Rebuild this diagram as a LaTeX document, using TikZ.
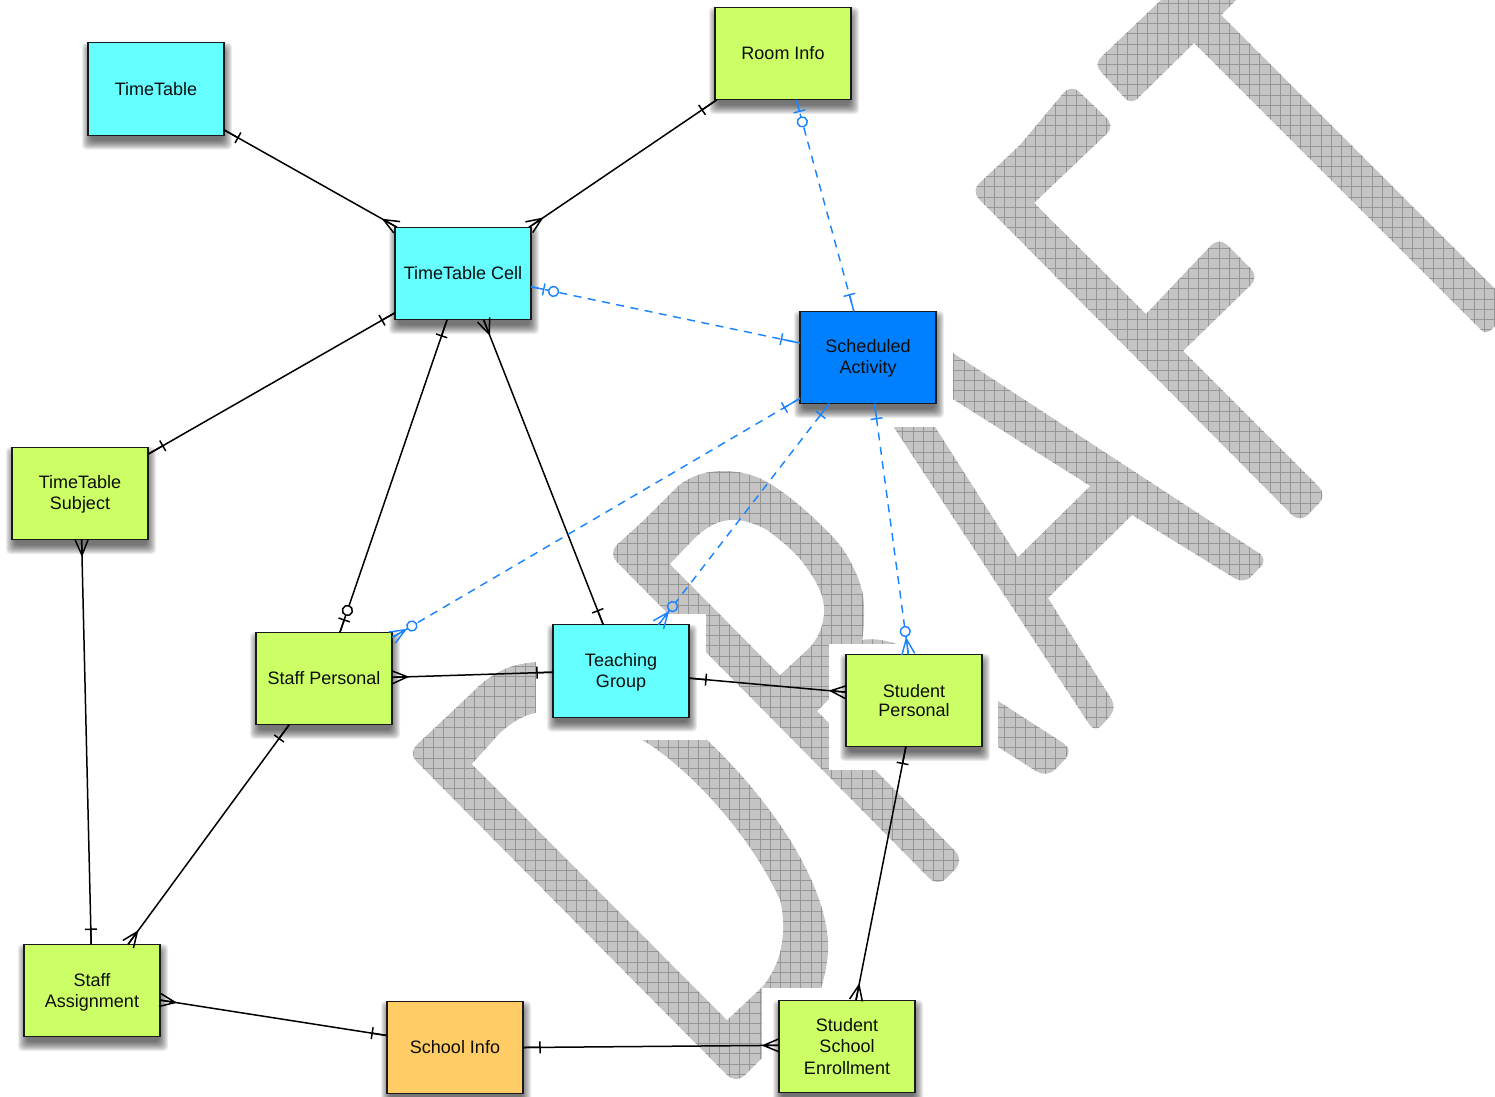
\documentclass[tikz,border=0pt]{standalone}
\usepackage{fontspec}
\setmainfont{Liberation Sans}
\usetikzlibrary{decorations.markings}
\definecolor{ercyan}{HTML}{66FFFF}
\definecolor{erlime}{HTML}{CCFF66}
\definecolor{erblue}{HTML}{0080FF}
\definecolor{erorange}{HTML}{FFCC66}
\definecolor{linkblue}{HTML}{1A84FF}
\definecolor{wmfill}{HTML}{C4C4C4}
\definecolor{wmgrid}{HTML}{969696}
\tikzset{
  ernode/.style={draw=black!90,line width=1.4pt,minimum width=136pt,minimum height=92.5pt,inner sep=0pt,outer sep=0pt,align=center,text=black!95,
    font=\fontsize{18}{21.2}\selectfont},
  link/.style={line width=1.5pt,color=black},
  dlink/.style={line width=1.45pt,color=linkblue,dash pattern=on 8pt off 6.5pt},
  barS/.style={postaction={decorate,decoration={markings,mark=at position #1pt with {\draw[solid] (0,-6)--(0,6) (0,0)--(-#1,0);}}}},
  barE/.style={postaction={decorate,decoration={markings,mark=at position -#1pt with {\draw[solid] (0,-6)--(0,6) (0,0)--(#1,0);}}}},
  crowS/.style={postaction={decorate,decoration={markings,mark=at position 15.5pt with {\draw[solid] (0,0)--(-15.5,6.5) (0,0)--(-15.5,-6.5) (0,0)--(-15.5,0);}}}},
  crowE/.style={postaction={decorate,decoration={markings,mark=at position -15.5pt with {\draw[solid] (0,0)--(15.5,6.5) (0,0)--(15.5,-6.5) (0,0)--(15.5,0);}}}},
  circS/.style={postaction={decorate,decoration={markings,mark=at position #1pt with {\draw[solid,fill=white] (0,0) circle[radius=5] ;}}}},
  circE/.style={postaction={decorate,decoration={markings,mark=at position -#1pt with {\draw[solid,fill=white] (0,0) circle[radius=5] ;}}}},
  circEg/.style={postaction={decorate,decoration={markings,mark=at position -#1pt with {\draw[solid,fill=wmfill] (0,0) circle[radius=5] ;}}}},
  halo/.style={fill=white,draw=none},
}
\newcommand{\firstline}[1]{\rule{0pt}{#1pt}}
\newcommand{\erbox}[6]{% name, cx, cy, halfh, colour, text
  \foreach \r in {7,6,5,4,3,2,1,0,-1,-2}{
    \fill[black,opacity=.075,rounded corners=4pt] ({#2-68-\r+1},{#3-#4-\r+7}) rectangle ({#2+68+\r+1},{#3+#4+\r+7});
  }
  \node[ernode,fill=#5] (#1) at (#2,#3) {#6};
}
\newcommand{\wmoutline}{
  % D
  (536,662) .. controls (515,664) and (500,668) .. (480,685) -- (457,707)
    [rounded corners=12pt] -- (408,753) -- (736,1084) [sharp corners] -- (762,1058) -- (800,1020)
    .. controls (810,1010) and (817,1000) .. (821,988)
    .. controls (826,972) and (829,955) .. (828,940)
    .. controls (822,870) and (760,790) .. (707,740)
    .. controls (650,690) and (580,660) .. (536,662) -- cycle
  % R
  (643,521) -- (677,487) .. controls (690,476) and (705,471) .. (723,471)
    .. controls (740,471) and (755,475) .. (767,482)
    .. controls (785,492) and (808,512) .. (823,527)
    .. controls (838,541) and (848,555) .. (853,567)
    .. controls (860,580) and (864,595) .. (864,607)
    .. controls (864,620) and (864,630) .. (862,640)
    .. controls (872,638) and (885,640) .. (897,644) -- (998,701)
    [rounded corners=12pt] -- (1074,750) -- (1047,778) [sharp corners] -- (998,747) -- (900,690) -- (830,698) -- (817,711)
    [rounded corners=12pt] -- (964,860) -- (938,887) -- (608,553) [sharp corners] -- cycle
  % A
  (900,318) -- (953,353) [rounded corners=10pt] -- (1268,559) -- (1244,584) [sharp corners] -- (1132,515) -- (1048,598)
    [rounded corners=10pt] -- (1117,708) -- (1095,733) [sharp corners] -- (893,426) -- (860,376) -- cycle
  % F
  (1020,145) [rounded corners=11pt] -- (1071,84) -- (1115,126) [sharp corners] -- (1034,203) -- (1146,314)
    [rounded corners=11pt] -- (1219,237) -- (1259,277) [sharp corners] -- (1183,351)
    [rounded corners=11pt] -- (1327,495) -- (1300,523) -- (971,191) [sharp corners] -- cycle
  % T
  (1161,0) [rounded corners=9pt] -- (1094,64) -- (1131,105) [sharp corners] -- (1194,43)
    [rounded corners=7pt] -- (1486,335) [sharp corners] -- (1495,326) -- (1495,289) -- (1221,15) -- (1236,0) -- cycle
}
\begin{document}
\begin{tikzpicture}[x=1pt,y=-1pt]
\useasboundingbox (0,0) rectangle (1495,1096);
% DRAFT watermark
\fill[wmfill] \wmoutline;
\begin{scope}
  \clip \wmoutline;
  \foreach \i in {0,...,146}{
    \draw[wmgrid,line width=.6pt] ({5.1+10.2*\i},0) -- ({5.1+10.2*\i},1096);
  }
  \foreach \i in {0,...,107}{
    \draw[wmgrid,line width=.6pt] (0,{3+10.2*\i}) -- (1495,{3+10.2*\i});
  }
\end{scope}
% letter counters
\fill[white] (472,764) -- (500,733) .. controls (515,720) and (525,715) .. (536,713)
  .. controls (570,708) and (610,718) .. (642,740)
  .. controls (680,762) and (745,825) .. (780,900)
  .. controls (786,925) and (785,960) .. (762,987) -- (727,1020) -- cycle;
\fill[white] (670,564) -- (695,538) .. controls (710,524) and (722,520) .. (733,520)
  .. controls (745,520) and (755,524) .. (767,530) .. controls (780,540) and (795,552) .. (803,563)
  .. controls (812,575) and (824,592) .. (824,610) .. controls (824,625) and (818,638) .. (810,647)
  -- (780,675) -- cycle;
\fill[white] (894,362) -- (1018,557) -- (1090,486) -- cycle;
% white clearances around nodes
\fill[halo] (782,294) rectangle (953,427);
\fill[halo] (536,614) rectangle (706,740);
\fill[halo] (829,644) rectangle (998,770);
\fill[halo] (762,988) rectangle (932,1096);
% nodes
\erbox{tt}{156}{89}{46.5}{ercyan}{TimeTable}
\erbox{ri}{783}{53.5}{46.5}{erlime}{Room Info}
\erbox{ce}{463}{273.5}{46.5}{ercyan}{TimeTable Cell}
\erbox{sc}{868}{357.5}{46.5}{erblue}{\firstline{15}Scheduled\\Activity}
\erbox{su}{80}{493.5}{46.5}{erlime}{\firstline{15}TimeTable\\Subject}
\erbox{sp}{324}{678.5}{46.5}{erlime}{Staff Personal}
\erbox{tg}{621}{671}{46.5}{ercyan}{\firstline{16}Teaching\\Group}
\erbox{st}{914}{700.5}{46.5}{erlime}{Student\\[-1.3pt]Personal}
\erbox{sa}{92}{990.5}{46.5}{erlime}{\firstline{17}Staff\\Assignment}
\erbox{si}{455}{1047.5}{46.5}{erorange}{School Info}
\erbox{en}{847}{1046.5}{46.5}{erlime}{Student\\School\\Enrollment}
% connectors
\draw[link,barS=16,crowE] (tt.-31.6) -- (ce.145);
\draw[link,barS=18,crowE] (ri.-145.6) -- (ce.35);
\draw[dlink,barS=12,circS=23,barE=17] (ri.-74.7) -- (sc.107.2);
\draw[dlink,barS=13,circS=23,barE=19] (ce.-11.9) -- (sc.168.1);
\draw[link,barS=15,barE=17] (ce.210.4) -- (su.30.4);
\draw[link,barS=17,barE=13,circE=23] (ce.-109.7) -- (sp.71.4);
\draw[link,crowS,barE=15] (ce.-66.7) -- (tg.111);
\draw[link,crowS,barE=15] (su.-88.8) -- (sa.91);
\draw[link,barS=17,crowE] (sp.-127.2) -- (sa.52.3);
\draw[link,crowS,barE=16] (sp.1.2) -- (tg.181.7);
\draw[link,barS=17,crowE] (tg.-6.6) -- (st.173.7);
\draw[dlink,barS=18,crowE,circE=23] (sc.211) -- (sp.31.4);
\draw[dlink,barS=14,crowE,circEg=23] (sc.-130.1) -- (tg.51.2);
\draw[dlink,barS=15,crowE,circE=23] (sc.-82.8) -- (st.97.4);
\draw[link,barS=17,crowE] (st.-100.7) -- (en.79.3);
\draw[link,barS=17,crowE] (si.0.4) -- (en.179.6);
\draw[link,crowS,barE=15] (sa.-8.7) -- (si.170.4);
\end{tikzpicture}
\end{document}
